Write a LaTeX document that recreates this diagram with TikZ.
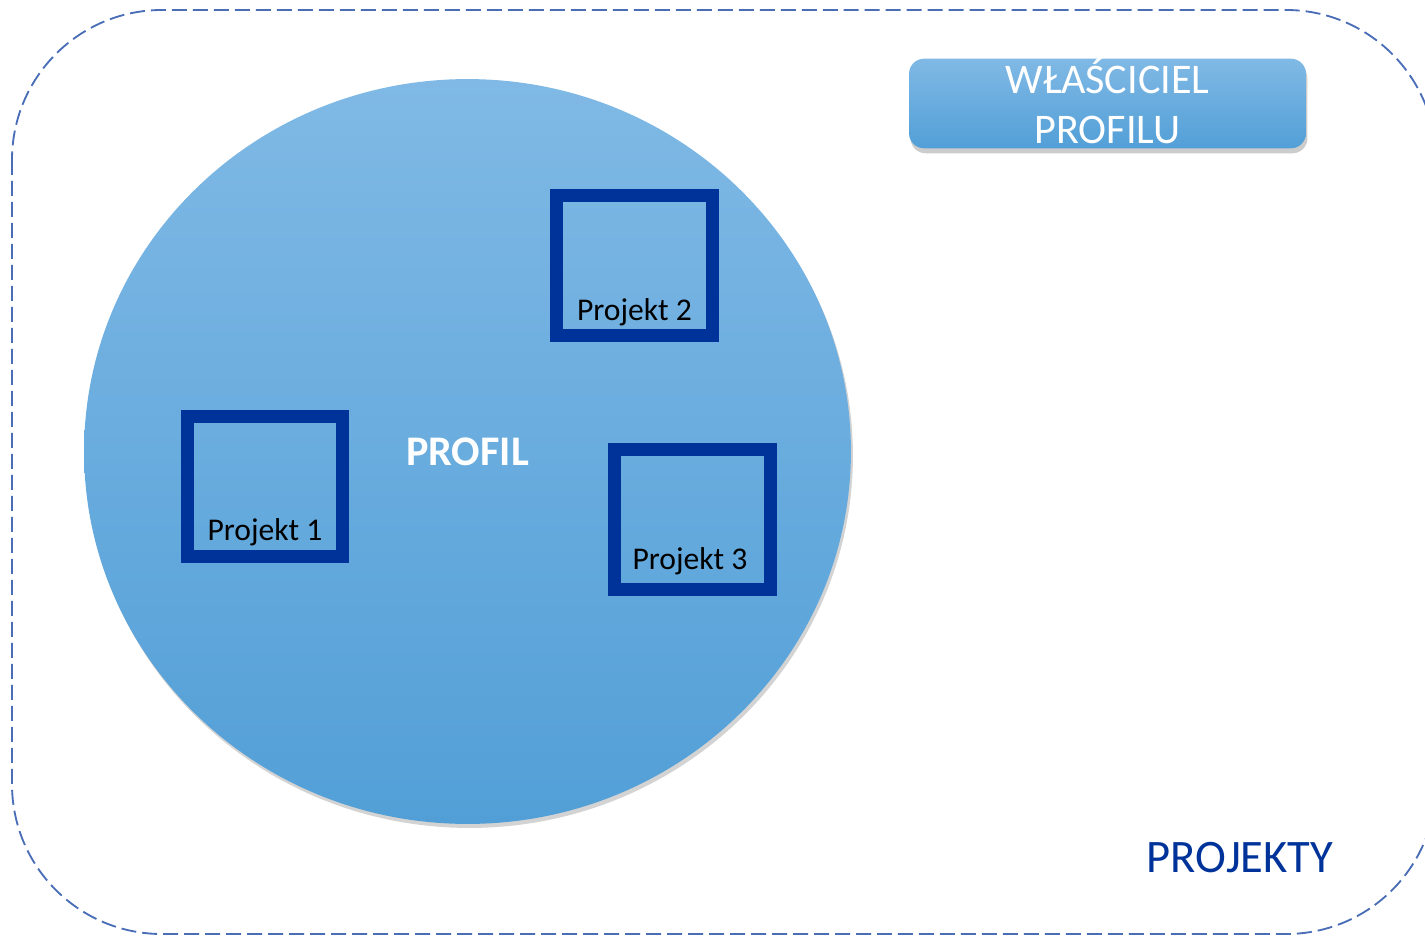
\documentclass[tikz,border=0pt]{standalone}
\usepackage{fontspec}
\setmainfont{Carlito}
\usetikzlibrary{positioning, shapes.geometric, shadows}
\definecolor{frameblue}{HTML}{4A6DB8}
\definecolor{boxblue}{HTML}{00339A}
\definecolor{toplight}{HTML}{80B9E5}
\definecolor{bottomdark}{HTML}{529FD7}

\begin{document}
\begin{tikzpicture}[x=0.02cm, y=-0.02cm,
    frame/.style={draw=frameblue, line width=1.05pt, dash pattern=on 0.3cm off 0.12cm, rounded corners=3cm},
    profil/.style={ellipse, top color=toplight, bottom color=bottomdark, draw=none,
        minimum width=15.34cm, minimum height=14.9cm, inner sep=0pt,
        drop shadow={shadow xshift=0.04cm, shadow yshift=-0.08cm, opacity=0.35},
        font=\fontsize{24}{28}\selectfont\bfseries, text=white},
    projbox/.style={rectangle, draw=boxblue, line width=0.254cm, outer sep=0pt,
        minimum width=3.11cm, minimum height=2.81cm},
    projtext/.style={anchor=base, inner sep=0pt, font=\fontsize{18}{21}\selectfont},
    owner/.style={rectangle, rounded corners=0.3cm, top color=toplight, bottom color=bottomdark,
        minimum width=7.94cm, minimum height=1.78cm, inner sep=0pt, align=center,
        drop shadow={shadow xshift=0.03cm, shadow yshift=-0.1cm, opacity=0.4},
        font=\fontsize{24}{28.45}\selectfont, text=white}]
    \useasboundingbox (0,0) rectangle (1425,936);
    \draw[frame] (12,10) rectangle (1436,934);
    \node[profil] (profil) at (467.5,451.5) {PROFIL};
    \node[projbox] (p1) at (265,486.5) {};
    \node[projbox] (p2) at (634.5,265.5) {};
    \node[projbox] (p3) at (692.5,519.5) {};
    \node[projtext] (t1) at (265,540) {Projekt 1};
    \node[projtext] (t2) at (634.5,320) {Projekt 2};
    \node[projtext] (t3) at (690,569) {Projekt 3};
    \node[owner] (wlasciciel) at (1107.5,103.5) {\raisebox{2.5pt}{WŁAŚCICIEL}\\\raisebox{2.5pt}{PROFILU}};
    \node[anchor=base, text=boxblue, font=\fontsize{26.5}{30}\selectfont] (projekty) at (1240,872) {PROJEKTY};
\end{tikzpicture}
\end{document}
